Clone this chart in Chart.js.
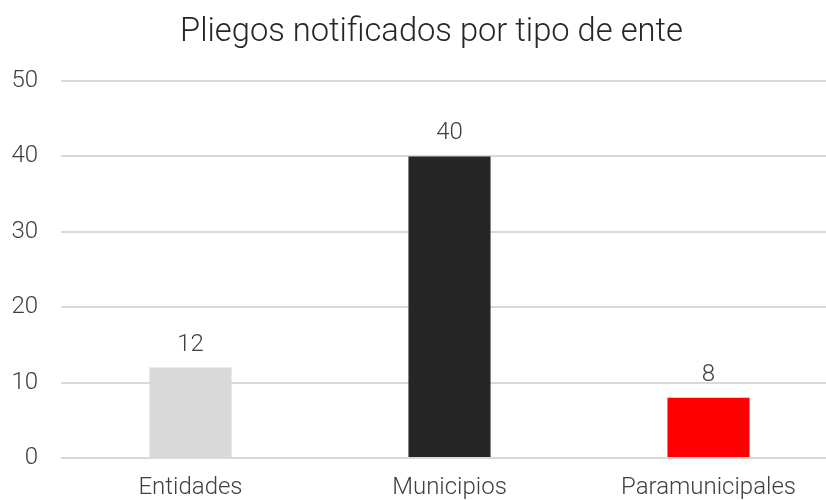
<!DOCTYPE html>
<html>
<head>
<meta charset="utf-8">
<script src="https://cdn.jsdelivr.net/npm/chart.js@4"></script>
<style>
html,body{margin:0;padding:0;background:#fff;overflow:hidden;}
#wrap{width:826px;height:500px;overflow:hidden;}
</style>
</head>
<body>
<div id="wrap"><canvas id="c" width="838" height="500"></canvas></div>
<script>
const title = "Pliegos notificados por tipo de ente";
const categories = ["Entidades", "Municipios", "Paramunicipales"];
const values = [12, 40, 8];
const barColors = ["#d9d9d9", "#262626", "#ff0000"];
const yTicks = [0, 10, 20, 30, 40, 50];

const FONT = "Roboto";
const TEXT = "#404040";

const valueLabels = {
  id: "valueLabels",
  afterDatasetsDraw(chart) {
    const ctx = chart.ctx;
    const meta = chart.getDatasetMeta(0);
    ctx.save();
    ctx.font = "300 24px " + FONT;
    ctx.fillStyle = TEXT;
    ctx.textAlign = "center";
    ctx.textBaseline = "middle";
    meta.data.forEach((bar, i) => {
      ctx.fillText(String(values[i]), bar.x, bar.y - 23);
    });
    ctx.restore();
  }
};

const titleText = {
  id: "titleText",
  afterDraw(chart) {
    const ctx = chart.ctx;
    ctx.save();
    ctx.font = "300 32.7px " + FONT;
    ctx.fillStyle = "#262626";
    ctx.textAlign = "center";
    ctx.textBaseline = "middle";
    ctx.fillText(title, 431.5, 32.6);
    ctx.restore();
  }
};

new Chart(document.getElementById("c"), {
  type: "bar",
  data: {
    labels: categories,
    datasets: [{
      data: values,
      backgroundColor: barColors,
      borderWidth: 0,
      categoryPercentage: 1,
      barPercentage: 0.317
    }]
  },
  options: {
    responsive: false,
    animation: false,
    devicePixelRatio: 1,
    layout: { padding: { left: 0, right: 0, top: 81, bottom: 0 } },
    plugins: {
      legend: { display: false },
      tooltip: { enabled: false },
      title: { display: false }
    },
    scales: {
      x: {
        afterFit(scale) { scale.height = 42; },
        grid: { display: false, drawTicks: false },
        border: { display: false },
        ticks: {
          color: TEXT,
          font: { family: FONT, size: 24, weight: 300 },
          padding: 16,
          maxRotation: 0
        }
      },
      y: {
        min: 0,
        max: 50,
        afterBuildTicks(scale) {
          scale.ticks = yTicks.map(v => ({ value: v }));
        },
        afterFit(scale) { scale.width = 61; },
        grid: { color: "#d9d9d9", lineWidth: 2, drawTicks: false },
        border: { display: false },
        ticks: {
          color: TEXT,
          font: { family: FONT, size: 24, weight: 300 },
          padding: 23
        }
      }
    }
  },
  plugins: [valueLabels, titleText]
});
</script>
</body>
</html>
